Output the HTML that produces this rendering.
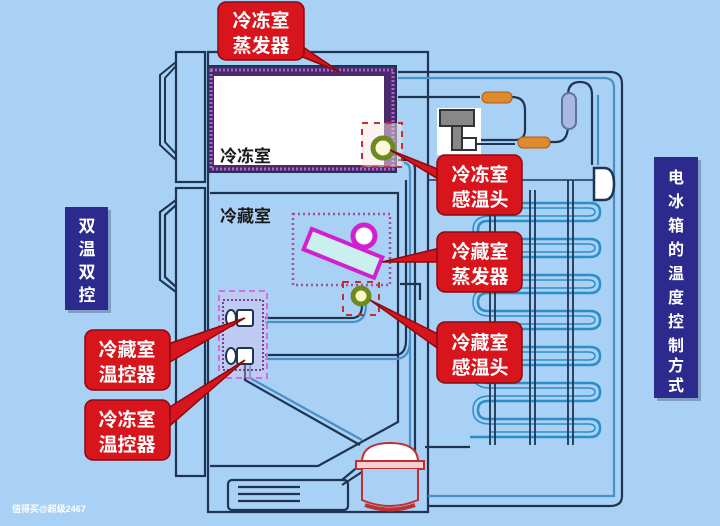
<!DOCTYPE html>
<html><head><meta charset="utf-8"><style>
html,body{margin:0;padding:0;background:#a9d1f5;}
svg{display:block}
text{font-family:"Liberation Sans","Noto Sans CJK SC",sans-serif;font-weight:bold}
</style></head><body>
<svg width="720" height="526" viewBox="0 0 720 526" xmlns="http://www.w3.org/2000/svg">
<rect width="720" height="526" fill="#a9d1f5"/>
<g fill="none" stroke="#1d3552" stroke-width="2.2">
<path d="M208 52 H428 V512 H208 Z"/>
<rect x="176" y="52" width="29" height="130" fill="#a9d1f5"/>
<rect x="176" y="188" width="29" height="288" fill="#a9d1f5"/>
<path d="M176 62 L160 75 V145 L176 160" stroke-width="2"/>
<path d="M176 66 L165 78 V142 L176 154" stroke-width="2"/>
<path d="M176 200 L160 212 V280 L176 292"/>
<path d="M176 205 L165 215 V277 L176 287"/>
<path d="M210 193 H398 V422 L318 466 H210"/>
<rect x="228" y="480" width="120" height="30" rx="4"/>
<path d="M238 487 H300 M238 494 H300 M238 501 H300"/>
<path d="M398 72 H610 Q622 72 622 84 V496 Q622 506 610 506 H428"/>
<path d="M398 78 H604 Q614 78 614 88 V496 H428" stroke="#4a90c8"/>
<path d="M398 97 H480 M512 97 Q525 97 525 110 V130 Q525 140 515 140 H480"/>
<path d="M548 142 H556 Q568 142 568 125 V95 Q568 82 580 82 Q592 82 592 95 V165"/>
<path d="M598 95 V165" stroke="#4a90c8"/>
<path d="M398 160 H408 Q415 160 415 170 V470" />
<path d="M404 163 Q410 163 410 172 V470" stroke="#4a90c8"/>
<path d="M400 284 H420 V300"/>
<path d="M265 318 H352 Q362 318 362 305"/>
<path d="M265 322 H352 Q366 322 366 305" stroke="#4a90c8"/>
<path d="M265 355 H395 Q406 355 406 340 V180"/>
<path d="M265 359 H395 Q410 359 410 340" stroke="#4a90c8"/>
<path d="M245 365 V380 L360 445"/>
<path d="M250 365 V378 L362 440" stroke="#4a90c8"/>
<path d="M342 480 L360 465 M342 485 L365 470"/>
<path d="M425 447 H470"/>
<g stroke="#2b8ec8" stroke-width="2.5">
<path d="M475 203 H590 Q600 203 600 212 Q600 221 590 221 H488 Q478 221 478 230 Q478 239 488 239 H590 Q600 239 600 248 Q600 257 590 257 H488 Q478 257 478 266 Q478 275 488 275 H590 Q600 275 600 284 Q600 293 590 293 H488 Q478 293 478 302 Q478 311 488 311 H590 Q600 311 600 320 Q600 329 590 329 H488 Q478 329 478 338 Q478 347 488 347 H590 Q600 347 600 356 Q600 365 590 365 H488 Q478 365 478 374 Q478 383 488 383 H590 Q600 383 600 392 Q600 401 590 401 H488 Q478 401 478 410 Q478 419 488 419 H590 Q600 419 600 428 Q600 437 590 437 H470"/>
<path d="M475 208 H588 Q595 208 595 212 Q595 216 588 216 H490 Q473 216 473 230 Q473 244 490 244 H588 Q595 244 595 248 Q595 252 588 252 H490 Q473 252 473 266 Q473 280 490 280 H588 Q595 280 595 284 Q595 288 588 288 H490 Q473 288 473 302 Q473 316 490 316 H588 Q595 316 595 320 Q595 324 588 324 H490 Q473 324 473 338 Q473 352 490 352 H588 Q595 352 595 356 Q595 360 588 360 H490 Q473 360 473 374 Q473 388 490 388 H588 Q595 388 595 392 Q595 396 588 396 H490 Q473 396 473 410 Q473 424 490 424 H588 Q595 424 595 428 Q595 432 588 432 H490" stroke-width="1.5"/>
</g>
<path d="M490 190 V445 M495 190 V445 M530 190 V445 M535 190 V445 M568 180 V445 M573 180 V445" stroke-width="1.8"/>
<path d="M428 180 H600" stroke-width="1.5"/>
</g>
<rect x="208" y="66" width="188" height="106" fill="#4a2a6a" stroke="#1d3552" stroke-width="2"/>
<rect x="211" y="70" width="182" height="99" fill="none" stroke="#b060d0" stroke-width="3" stroke-dasharray="2 2"/>
<rect x="214" y="76" width="170" height="89" fill="#fff"/>
<text x="220" y="162" font-size="17" fill="#1a1a1a">冷冻室</text>
<text x="220" y="222" font-size="17" fill="#1a1a1a">冷藏室</text>
<rect x="362" y="123" width="40" height="44" fill="#fbe6e6" fill-opacity="0.5" stroke="#c03030" stroke-width="2" stroke-dasharray="6 6"/>
<circle cx="383" cy="148" r="10" fill="#fff8d8" stroke="#6b8a20" stroke-width="5"/>
<rect x="293" y="214" width="97" height="71" fill="none" stroke="#a050a0" stroke-width="2.5" stroke-dasharray="2 3"/>
<g transform="rotate(22 342 253)"><rect x="305" y="242" width="76" height="22" fill="#c9f0ee" stroke="#d020d0" stroke-width="4"/></g>
<circle cx="364" cy="236" r="11" fill="#fff" stroke="#d020d0" stroke-width="5"/>
<rect x="343" y="282" width="36" height="33" fill="none" stroke="#c03030" stroke-width="2" stroke-dasharray="6 6"/>
<circle cx="361" cy="296" r="8" fill="#fff8c0" stroke="#6b8a20" stroke-width="5"/>
<rect x="219" y="291" width="48" height="87" fill="#e8c0f0" fill-opacity="0.35" stroke="#d070e0" stroke-width="2" stroke-dasharray="6 4"/>
<rect x="223" y="300" width="40" height="70" fill="none" stroke="#6a4a8a" stroke-width="2" stroke-dasharray="2 2"/>
<ellipse cx="231" cy="318" rx="5" ry="8" fill="#fff" stroke="#1d3552" stroke-width="2"/>
<rect x="237" y="310" width="16" height="16" rx="2" fill="#fff" stroke="#1d3552" stroke-width="2"/>
<ellipse cx="231" cy="356" rx="5" ry="8" fill="#fff" stroke="#1d3552" stroke-width="2"/>
<rect x="237" y="348" width="16" height="16" rx="2" fill="#fff" stroke="#1d3552" stroke-width="2"/>
<path d="M362 462 Q362 443 390 443 Q418 443 418 462 Z" fill="#fff" stroke="#c03030" stroke-width="2"/>
<rect x="356" y="461" width="68" height="8" fill="#f4d0d0" stroke="#c03030" stroke-width="2"/>
<path d="M362 469 V500 Q390 512 418 500 V469" fill="#a9d1f5" stroke="#c03030" stroke-width="2"/>
<path d="M365 505 Q390 514 415 505" stroke="#c03030" stroke-width="4" fill="none"/>
<rect x="437" y="108" width="44" height="47" fill="#fff"/>
<rect x="440" y="110" width="34" height="16" fill="#888" stroke="#333" stroke-width="2"/>
<rect x="452" y="126" width="10" height="24" fill="#888" stroke="#333" stroke-width="2"/>
<rect x="462" y="138" width="14" height="12" fill="#fff" stroke="#333" stroke-width="2"/>
<path d="M476 144 H515" stroke="#1d3552" stroke-width="2"/>
<rect x="482" y="92" width="30" height="11" rx="5" fill="#e08a30" stroke="#b05a10"/>
<rect x="518" y="137" width="32" height="11" rx="5" fill="#e08a30" stroke="#b05a10"/>
<rect x="562" y="93" width="14" height="36" rx="7" fill="#a8b8e0" stroke="#6070a0" stroke-width="2"/>
<path d="M594 168 H604 Q614 168 614 184 Q614 200 604 200 H594 Z" fill="#fff" stroke="#1d3552" stroke-width="2.5"/>
<rect x="68" y="210" width="43" height="103" fill="#5a6a90" opacity="0.5"/>
<rect x="65" y="207" width="43" height="103" fill="#2c2a8c"/>
<g fill="#fff" font-size="17" text-anchor="middle">
<text x="87" y="232">双</text><text x="87" y="255">温</text><text x="87" y="278">双</text><text x="87" y="301">控</text>
</g>
<rect x="657" y="160" width="44" height="241" fill="#5a6a90" opacity="0.5"/>
<rect x="654" y="157" width="44" height="241" fill="#2c2a8c"/>
<g fill="#fff" font-size="16" text-anchor="middle">
<text x="676" y="183">电</text><text x="676" y="207">冰</text><text x="676" y="231">箱</text><text x="676" y="255">的</text><text x="676" y="279">温</text><text x="676" y="303">度</text><text x="676" y="327">控</text><text x="676" y="351">制</text><text x="676" y="371">方</text><text x="676" y="391">式</text>
</g>
<g fill="#d8141c" stroke="#8a0a10" stroke-width="1.5">
<path d="M285 50 L340 72 L300 45 Z"/>
<rect x="218" y="2" width="86" height="58" rx="8"/>
<path d="M440 170 L390 150 L440 180 Z"/>
<rect x="437" y="155" width="85" height="60" rx="8"/>
<path d="M440 248 L382 262 L440 262 Z"/>
<rect x="437" y="232" width="85" height="60" rx="8"/>
<path d="M440 335 L370 300 L440 350 Z"/>
<rect x="437" y="322" width="85" height="61" rx="8"/>
<path d="M165 345 L245 318 L165 365 Z"/>
<rect x="85" y="330" width="85" height="60" rx="8"/>
<path d="M165 410 L245 360 L165 430 Z"/>
<rect x="85" y="400" width="85" height="60" rx="8"/>
</g>
<g fill="#fff" font-size="19" text-anchor="middle">
<text x="261" y="27">冷冻室</text><text x="261" y="52">蒸发器</text>
<text x="480" y="181">冷冻室</text><text x="480" y="206">感温头</text>
<text x="480" y="258">冷藏室</text><text x="480" y="283">蒸发器</text>
<text x="480" y="349">冷藏室</text><text x="480" y="374">感温头</text>
<text x="127" y="356">冷藏室</text><text x="127" y="381">温控器</text>
<text x="127" y="426">冷冻室</text><text x="127" y="451">温控器</text>
</g>
<text x="12" y="512" font-size="9" fill="#fff" font-weight="normal">值得买@超级2467</text>
</svg>
</body></html>
